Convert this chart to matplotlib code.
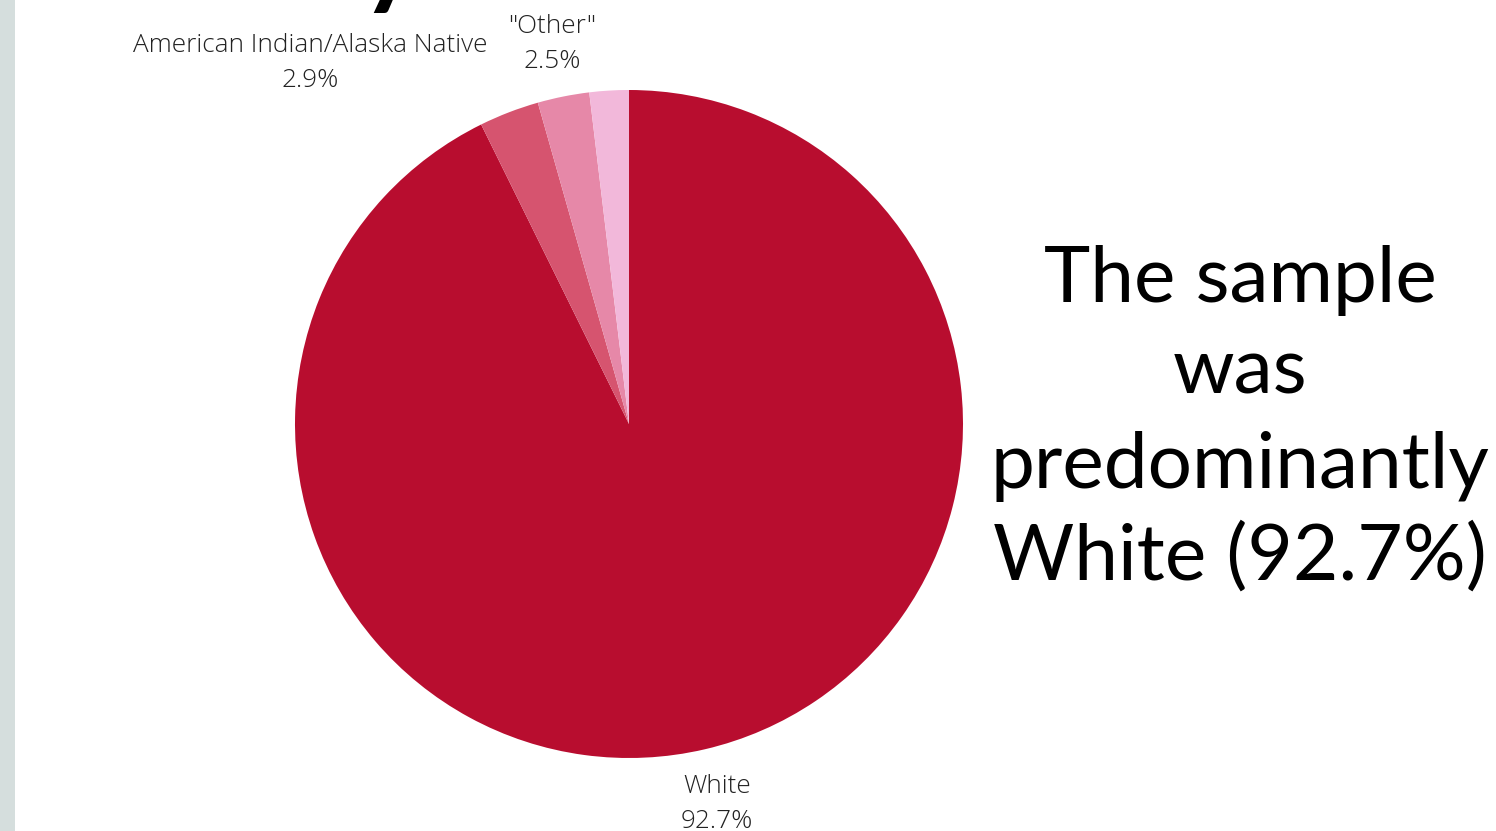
import matplotlib
matplotlib.use("Agg")
import matplotlib.pyplot as plt
from matplotlib.patches import Rectangle

categories = ["White", "American Indian/Alaska Native", '"Other"', "Remaining"]
values = [92.7, 2.9, 2.5, 1.9]
colors = ["#B80D2F", "#D6546F", "#E688A8", "#F2B8DA"]
shown = [True, True, True, False]
headline = ["The sample", "was", "predominantly", "White (92.7%)"]

W, H = 1496, 831
fig = plt.figure(figsize=(W / 100, H / 100), dpi=100)
fig.patch.set_facecolor("white")

# left grey band
fig.patches.append(Rectangle((0, 0), 15 / W, 1, transform=fig.transFigure,
                             facecolor="#D5DEDD", edgecolor="none"))

cx, cy, r = 629, 831 - 424, 334
ax = fig.add_axes([(cx - r) / W, (cy - r) / H, 2 * r / W, 2 * r / H])
ax.pie(values, colors=colors, startangle=90, counterclock=False,
       wedgeprops=dict(linewidth=0))
ax.set_xlim(-1, 1)
ax.set_ylim(-1, 1)
ax.set_aspect("equal")
ax.axis("off")

# label positions (pixel centres, from top)
label_pos = {0: (717, 804), 1: (310, 63), 2: (552, 44)}
lab_font = dict(family=["Open Sans", "DejaVu Sans"], fontsize=18.8,
                color="#222222", fontweight="light")
for i, (cat, val) in enumerate(zip(categories, values)):
    if not shown[i]:
        continue
    x, y = label_pos[i]
    fig.text(x / W, 1 - y / H, f"{cat}\n{val:.1f}%", ha="center", va="center",
             linespacing=1.5, **lab_font)

# cut-off title fragment at top
fig.text(390 / W, 1 - (-38) / H, "y", ha="center", va="center",
         fontsize=80, fontweight="bold", color="black",
         family=["Lato", "DejaVu Sans"])

# headline text
line_y = [280, 372, 466, 558]
for txt, y in zip(headline, line_y):
    fig.text(1240 / W, 1 - y / H, txt, ha="center", va="center",
             fontsize=56.5, color="black", family=["Lato", "DejaVu Sans"])

fig.savefig("out.png", dpi=100)
